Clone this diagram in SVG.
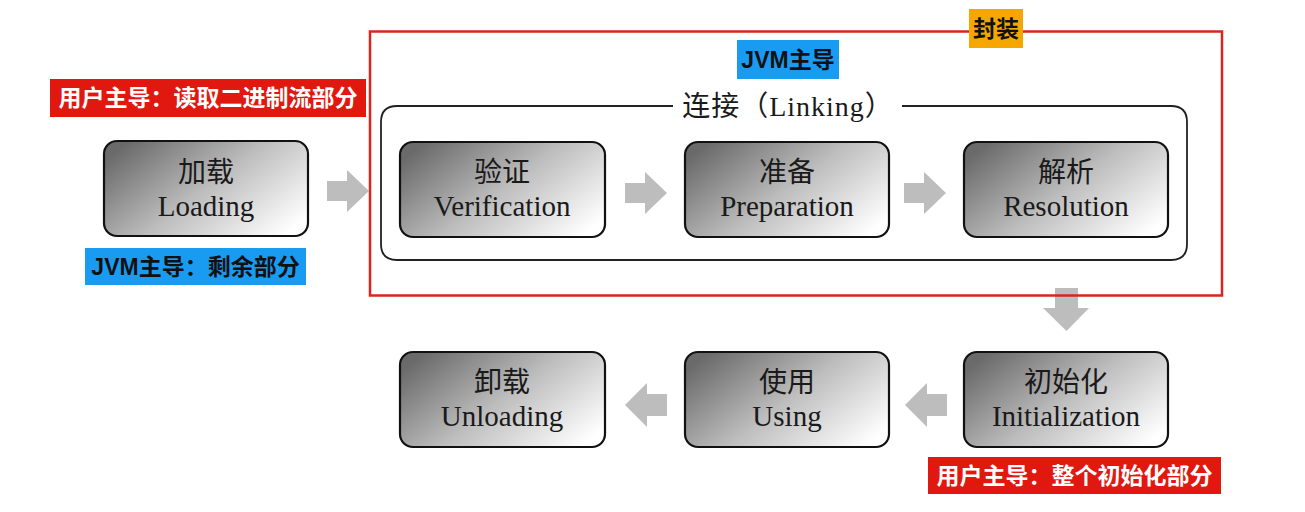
<svg xmlns="http://www.w3.org/2000/svg" width="1305" height="512" viewBox="0 0 1305 512">
<defs>
<linearGradient id="g" x1="0" y1="0.2" x2="1" y2="0.8">
<stop offset="0" stop-color="#6a6a6a"/>
<stop offset="0.5" stop-color="#bdbdbd"/>
<stop offset="1" stop-color="#ffffff"/>
</linearGradient>
<path id="arR" d="M0,11 H20 V0 L42,21 L20,42 V31 H0 Z"/>
</defs>
<style>
.node{fill:url(#g);stroke:#111;stroke-width:2.2}
.t{font-family:"Liberation Serif","Noto Sans CJK SC",serif;font-size:28px;fill:#1a1a1a;text-anchor:middle}
.e{font-size:29px}
.arr{fill:#bdbdbd}
.lab{font-family:"Liberation Sans","Noto Sans CJK SC",sans-serif;font-weight:bold;font-size:23px;text-anchor:middle}
</style>
<rect width="1305" height="512" fill="#fff"/>

<g id="connectors">
<use href="#arR" class="arr" x="327" y="170"/>
<use href="#arR" class="arr" x="625" y="172"/>
<use href="#arR" class="arr" x="904" y="172"/>
<path class="arr" d="M1055,288 H1078 V308 H1089 L1066.5,331 L1043,308 H1055 Z"/>
<path class="arr" d="M947,394 H927 V383 L905,405 L927,427 V416 H947 Z"/>
<path class="arr" d="M667,394 H647 V383 L625,405 L647,427 V416 H667 Z"/>
</g>

<g id="encapsulation">
<rect x="370" y="31.5" width="852" height="264" fill="none" stroke="#d8261c" stroke-width="2.5"/>
</g>

<g id="linking">
<path d="M673,106 H397 Q381,106 381,122 V244 Q381,260 397,260 H1171 Q1187,260 1187,244 V122 Q1187,106 1171,106 H902" fill="none" stroke="#222" stroke-width="1.8"/>
<text class="t" x="788" y="116" font-size="29" letter-spacing="1">连接（Linking）</text>
</g>

<g id="loading">
<rect class="node" x="104" y="141" width="204" height="95" rx="13"/>
<text class="t" x="206" y="182">加载</text>
<text class="t e" x="206" y="216">Loading</text>
</g>
<g id="verification">
<rect class="node" x="400" y="142" width="205" height="95" rx="13"/>
<text class="t" x="502" y="182">验证</text>
<text class="t e" x="502" y="216">Verification</text>
</g>
<g id="preparation">
<rect class="node" x="685" y="142" width="204" height="95" rx="13"/>
<text class="t" x="787" y="182">准备</text>
<text class="t e" x="787" y="216">Preparation</text>
</g>
<g id="resolution">
<rect class="node" x="964" y="142" width="204" height="95" rx="13"/>
<text class="t" x="1066" y="182">解析</text>
<text class="t e" x="1066" y="216">Resolution</text>
</g>
<g id="initialization">
<rect class="node" x="964" y="352" width="204" height="95" rx="13"/>
<text class="t" x="1066" y="392">初始化</text>
<text class="t e" x="1066" y="426">Initialization</text>
</g>
<g id="using">
<rect class="node" x="685" y="352" width="204" height="95" rx="13"/>
<text class="t" x="787" y="392">使用</text>
<text class="t e" x="787" y="426">Using</text>
</g>
<g id="unloading">
<rect class="node" x="400" y="352" width="205" height="95" rx="13"/>
<text class="t" x="502" y="392">卸载</text>
<text class="t e" x="502" y="426">Unloading</text>
</g>

<g id="label-user-load">
<rect x="50" y="79" width="316" height="38" fill="#e1180f"/>
<text class="lab" x="208" y="106" fill="#fff">用户主导：读取二进制流部分</text>
</g>
<g id="label-jvm-load">
<rect x="85" y="248" width="221" height="37" fill="#1a9bf2"/>
<text class="lab" x="195.5" y="275" fill="#111">JVM主导：剩余部分</text>
</g>
<g id="label-jvm-link">
<rect x="737" y="40" width="102" height="39" fill="#1a9bf2"/>
<text class="lab" x="788" y="68" fill="#111">JVM主导</text>
</g>
<g id="label-encap">
<rect x="969" y="9" width="54" height="39" fill="#f5a700"/>
<text class="lab" x="996" y="37" fill="#111">封装</text>
</g>
<g id="label-user-init">
<rect x="928" y="457" width="293" height="37" fill="#e1180f"/>
<text class="lab" x="1074.5" y="484" fill="#fff">用户主导：整个初始化部分</text>
</g>
</svg>
